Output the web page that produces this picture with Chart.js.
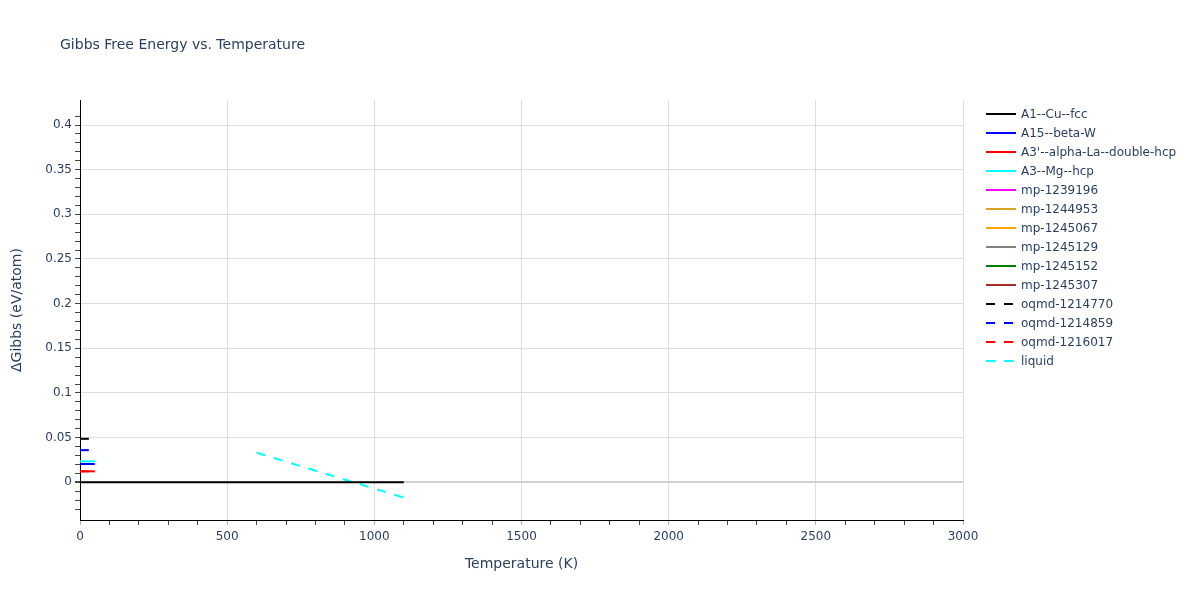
<!DOCTYPE html>
<html>
<head>
<meta charset="utf-8">
<script src="https://cdn.jsdelivr.net/npm/chart.js@4/dist/chart.umd.min.js"></script>
<style>
  html, body { margin: 0; padding: 0; background: #fff; }
  #wrap { width: 1200px; height: 600px; }
</style>
</head>
<body>
<div id="wrap"><canvas id="myChart" width="1200" height="600"></canvas></div>
<script>
// series labels, colours, dash styles
const seriesNames = ['A1--Cu--fcc', 'A15--beta-W', "A3'--alpha-La--double-hcp", 'A3--Mg--hcp',
  'mp-1239196', 'mp-1244953', 'mp-1245067', 'mp-1245129', 'mp-1245152', 'mp-1245307',
  'oqmd-1214770', 'oqmd-1214859', 'oqmd-1216017', 'liquid'];
const seriesColors = ['#000000', '#0000ff', '#ff0000', '#00ffff',
  '#ff00ff', '#daa520', '#ffa500', '#808080', '#008000', '#a52a2a',
  '#000000', '#0000ff', '#ff0000', '#00ffff'];
const seriesDashed = [false, false, false, false, false, false, false, false, false, false,
  true, true, true, true];

// temperatures (K) and ΔG (eV/atom)
const tempA1 = [0, 100, 200, 300, 400, 500, 600, 700, 800, 900, 1000, 1100];
const gA1 = [0, 0, 0, 0, 0, 0, 0, 0, 0, 0, 0, 0];
const tempA15 = [0, 50];
const gA15 = [0.0205, 0.0205];
const tempA3La = [0, 50];
const gA3La = [0.0123, 0.0123];
const tempA3Mg = [0, 50];
const gA3Mg = [0.0235, 0.0235];
const tempOqmd770 = [0, 30];
const gOqmd770 = [0.0487, 0.0487];
const tempOqmd859 = [0, 30];
const gOqmd859 = [0.0360, 0.0360];
const tempOqmd017 = [0, 30];
const gOqmd017 = [0.0123, 0.0123];
const tempLiquid = [600, 700, 800, 900, 1000, 1100];
const gLiquid = [0.0331, 0.0230, 0.0130, 0.0029, -0.0071, -0.0172];

const seriesTemps = [tempA1, tempA15, tempA3La, tempA3Mg, [], [], [], [], [], [],
  tempOqmd770, tempOqmd859, tempOqmd017, tempLiquid];
const seriesValues = [gA1, gA15, gA3La, gA3Mg, [], [], [], [], [], [],
  gOqmd770, gOqmd859, gOqmd017, gLiquid];

const textColor = '#2a3f5f';
const fontFamily = '"DejaVu Sans", verdana, sans-serif';

const datasets = seriesNames.map((name, i) => ({
  label: name,
  data: seriesTemps[i].map((t, j) => ({ x: t, y: seriesValues[i][j] })),
  borderColor: seriesColors[i],
  backgroundColor: seriesColors[i],
  borderWidth: 2,
  borderDash: seriesDashed[i] ? [9, 9] : [],
  pointRadius: 0,
  fill: false,
  tension: 0,
}));

// title + legend drawn on the canvas, plotly style
const sidePlugin = {
  id: 'sideText',
  afterDraw(chart) {
    const ctx = chart.ctx;
    ctx.save();
    ctx.fillStyle = textColor;
    ctx.font = '14px ' + fontFamily;
    ctx.textBaseline = 'middle';
    ctx.textAlign = 'left';
    ctx.fillText('Gibbs Free Energy vs. Temperature', 60, 45);

    ctx.font = '12px ' + fontFamily;
    chart.data.datasets.forEach((ds, i) => {
      const y = 114 + 19 * i;
      ctx.strokeStyle = ds.borderColor;
      ctx.lineWidth = 2;
      ctx.setLineDash(ds.borderDash);
      ctx.beginPath();
      ctx.moveTo(986, y);
      ctx.lineTo(1016, y);
      ctx.stroke();
      ctx.setLineDash([]);
      ctx.fillStyle = textColor;
      ctx.fillText(ds.label, 1021, y + 1);
    });
    ctx.restore();
  }
};

const isMajorX = v => Math.round(v) % 500 === 0;
const isMajorY = v => Math.round(v * 100) % 5 === 0;

const config = {
  type: 'line',
  data: { datasets: datasets },
  options: {
    responsive: false,
    animation: false,
    layout: { padding: { top: 100, right: 237, left: 0, bottom: 0 } },
    plugins: {
      legend: { display: false },
      tooltip: { enabled: false },
      title: { display: false }
    },
    scales: {
      x: {
        type: 'linear',
        min: 0,
        max: 3000,
        afterFit(scale) { scale.height = 80; },
        ticks: {
          stepSize: 100,
          autoSkip: false,
          maxRotation: 0,
          padding: 5,
          color: textColor,
          font: { family: fontFamily, size: 12 },
          callback: v => isMajorX(v) ? String(v) : ''
        },
        grid: {
          color: c => isMajorX(c.tick.value) ? '#dedede' : 'rgba(0,0,0,0)',
          tickColor: c => isMajorX(c.tick.value) ? '#b0b0b0' : '#444',
          tickLength: 5,
          lineWidth: 1
        },
        border: { color: '#000', width: 1 },
        title: {
          display: true,
          text: 'Temperature (K)',
          color: textColor,
          font: { family: fontFamily, size: 14 },
          padding: { top: 0, bottom: 27 }
        }
      },
      y: {
        type: 'linear',
        min: -0.0422,
        max: 0.428,
        afterFit(scale) { scale.width = 80; },
        afterBuildTicks(scale) {
          scale.ticks = scale.ticks.filter(t => Math.abs(t.value * 100 - Math.round(t.value * 100)) < 1e-6);
        },
        ticks: {
          stepSize: 0.01,
          autoSkip: false,
          padding: 3,
          color: textColor,
          font: { family: fontFamily, size: 12 },
          callback: v => isMajorY(v) ? String(Math.round(v * 100) / 100) : ''
        },
        grid: {
          color: c => {
            if (Math.abs(c.tick.value) < 1e-9) return '#d0d0d0';
            return isMajorY(c.tick.value) ? '#dedede' : 'rgba(0,0,0,0)';
          },
          lineWidth: c => Math.abs(c.tick.value) < 1e-9 ? 2 : 1,
          tickColor: '#444',
          tickLength: 5
        },
        border: { color: '#000', width: 1 },
        title: {
          display: true,
          text: 'ΔGibbs (eV/atom)',
          color: textColor,
          font: { family: fontFamily, size: 14 },
          padding: { top: 9, bottom: 0 }
        }
      }
    }
  },
  plugins: [sidePlugin]
};

const ctx = document.getElementById('myChart').getContext('2d');
new Chart(ctx, config);
</script>
</body>
</html>
